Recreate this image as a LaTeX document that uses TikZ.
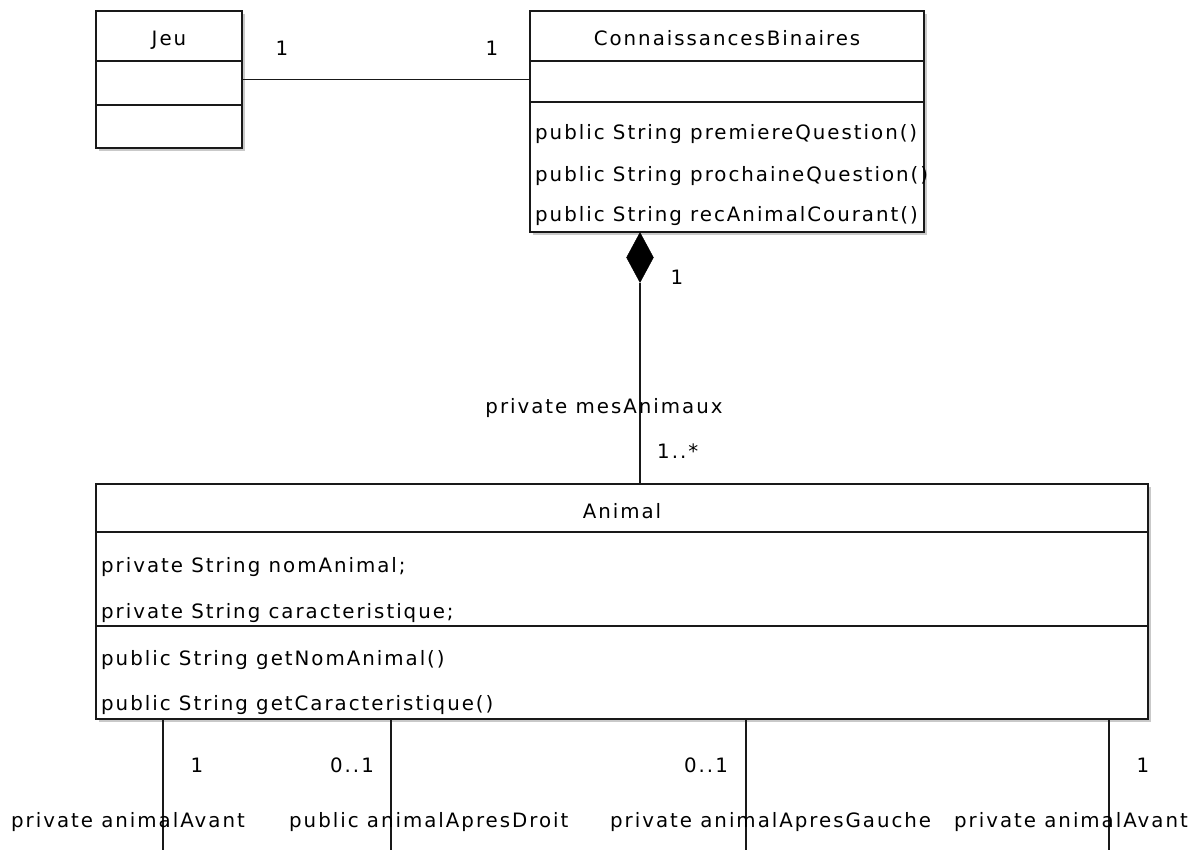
\documentclass[tikz,border=0pt]{standalone}
\usepackage{fontspec}
\setmainfont{DejaVu Sans}[LetterSpace=10]
\usetikzlibrary{shapes.geometric,shadows}
\begin{document}
\begin{tikzpicture}[x=1pt,y=-1pt,
  umlbox/.style={draw=black!90, line width=2pt, fill=white, inner sep=0pt, rectangle,
    drop shadow={shadow xshift=3pt, shadow yshift=-3pt, fill=black!35, opacity=0.6}},
  div/.style={draw=black!90, line width=2pt},
  conn/.style={draw=black!90, line width=1.4pt},
  txt/.style={font=\fontsize{19.8}{22}\selectfont, inner sep=0pt, text=black},
  comp/.style={diamond, fill=black, draw=black, inner sep=0pt, minimum width=27pt, minimum height=50pt}
]
\useasboundingbox (0,0) rectangle (1199,850);
\fill[white] (0,0) rectangle (1199,850);

% boxes
\node[umlbox, minimum width=146pt, minimum height=137pt] (jeu) at (169,79.5) {};
\node[umlbox, minimum width=394pt, minimum height=221pt] (cb) at (727,121.5) {};
\node[umlbox, minimum width=1052pt, minimum height=235pt] (animal) at (622,601.5) {};

% dividers
\draw[div] (jeu.west |- 0,61) -- (jeu.east |- 0,61);
\draw[div] (jeu.west |- 0,105) -- (jeu.east |- 0,105);
\draw[div] (cb.west |- 0,61) -- (cb.east |- 0,61);
\draw[div] (cb.west |- 0,102) -- (cb.east |- 0,102);
\draw[div] (animal.west |- 0,532) -- (animal.east |- 0,532);
\draw[div] (animal.west |- 0,626) -- (animal.east |- 0,626);

% titles
\node[txt, anchor=base] (tjeu) at (169,46) {Jeu};
\node[txt, anchor=base] (tcb) at (727,46) {ConnaissancesBinaires};
\node[txt, anchor=base] (tanimal) at (622,518) {Animal};

% members
\node[txt, anchor=base west] (m1) at (535,140) {public String premiereQuestion()};
\node[txt, anchor=base west] (m2) at (535,182) {public String prochaineQuestion()};
\node[txt, anchor=base west] (m3) at (535,222) {public String recAnimalCourant()};
\node[txt, anchor=base west] (a1) at (101,572) {private String nomAnimal;};
\node[txt, anchor=base west] (a2) at (101,618) {private String caracteristique;};
\node[txt, anchor=base west] (a3) at (101,665) {public String getNomAnimal()};
\node[txt, anchor=base west] (a4) at (101,710) {public String getCaracteristique()};

% association Jeu -- ConnaissancesBinaires
\draw[conn] (jeu.east) -- (cb.west |- jeu.east);
\node[txt, anchor=base] (l1) at (282,56) {1};
\node[txt, anchor=base] (l2) at (492,56) {1};

% composition
\node[comp] (dia) at (640,257.5) {};
\draw[conn] (dia.south) -- (animal.north -| dia.south);
\node[txt, anchor=base] (c1) at (677,284) {1};
\node[txt, anchor=base] (c2) at (604,413) {private mesAnimaux};
\node[txt, anchor=base west] (c3) at (657,458) {1..*};

% self associations (cut at the bottom)
\coordinate (b1) at (163,850);
\coordinate (b2) at (391,850);
\coordinate (b3) at (746,850);
\coordinate (b4) at (1109,850);
\draw[conn] (animal.south -| b1) -- (b1);
\draw[conn] (animal.south -| b2) -- (b2);
\draw[conn] (animal.south -| b3) -- (b3);
\draw[conn] (animal.south -| b4) -- (b4);

\node[txt, anchor=base] (m1l) at (197,772) {1};
\node[txt, anchor=base] (m2l) at (352,772) {0..1};
\node[txt, anchor=base] (m3l) at (706,772) {0..1};
\node[txt, anchor=base] (m4l) at (1143,772) {1};

\node[txt, anchor=base west] (r1) at (11,827) {private animalAvant};
\node[txt, anchor=base west] (r2) at (289,827) {public animalApresDroit};
\node[txt, anchor=base west] (r3) at (610,827) {private animalApresGauche};
\node[txt, anchor=base east] (r4) at (1188,827) {private animalAvant};
\end{tikzpicture}
\end{document}
